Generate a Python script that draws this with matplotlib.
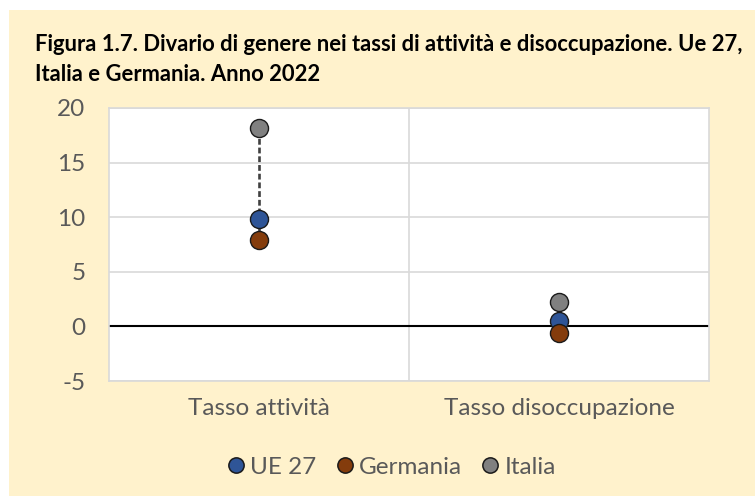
import matplotlib
matplotlib.use("Agg")
import matplotlib.pyplot as plt
from matplotlib.patches import Rectangle
from matplotlib.lines import Line2D

categories = ["Tasso attività", "Tasso disoccupazione"]
series_names = ["UE 27", "Germania", "Italia"]
ue27 = [9.8, 0.5]
germania = [7.9, -0.6]
italia = [18.2, 2.2]
yticks = [-5, 0, 5, 10, 15, 20]
title_lines = ["Figura 1.7. Divario di genere nei tassi di attività e disoccupazione. Ue 27,",
               "Italia e Germania. Anno 2022"]

colors = {"UE 27": "#2F5597", "Germania": "#843C0C", "Italia": "#808080"}
plt.rcParams['font.family'] = ['Lato', 'DejaVu Sans']

W, H = 755, 496
fig = plt.figure(figsize=(W / 100, H / 100), dpi=100)
fig.patch.set_facecolor("white")
fig.patches.append(Rectangle((9 / W, 0), 1 - 9 / W, 1 - 10 / H, transform=fig.transFigure,
                             facecolor="#FFF2CC", edgecolor="none", zorder=-10))

left, right, top, bottom = 109, 709, 108, 381
ax = fig.add_axes([left / W, 1 - bottom / H, (right - left) / W, (bottom - top) / H])
ax.set_facecolor("white")
for s in ax.spines.values():
    s.set_color("#D9D9D9")
    s.set_linewidth(1.2)

x = list(range(len(categories)))
ax.set_xlim(-0.5, len(categories) - 0.5)
ax.set_ylim(min(yticks), max(yticks))
ax.set_yticks(yticks)
ax.set_yticklabels([str(t) for t in yticks])
ax.set_xticks(x)
ax.set_xticklabels(categories)
ax.tick_params(axis="both", length=0, labelsize=17.5, labelcolor="#595959")
ax.tick_params(axis="y", pad=17)
ax.tick_params(axis="x", pad=12)

for yt in yticks:
    ax.axhline(yt, color="#D9D9D9", lw=1.2, zorder=1)
for b in range(1, len(categories)):
    ax.axvline(b - 0.5, color="#D9D9D9", lw=1.2, zorder=1)
ax.axhline(0, color="black", lw=1.5, zorder=2)

all_vals = [ue27, germania, italia]
for i in x:
    vals = [v[i] for v in all_vals]
    ax.plot([i, i], [min(vals), max(vals)], color="#404040", lw=1.9, ls=(0, (2.2, 1.1)), zorder=3)

for name, vals in zip(series_names, all_vals):
    ax.plot(x, vals, ls="none", marker="o", markersize=13, markerfacecolor=colors[name],
            markeredgecolor="#1a1a1a", markeredgewidth=1, zorder=4, label=name)

handles = [Line2D([], [], ls="none", marker="o", markersize=11, markerfacecolor=colors[n],
                  markeredgecolor="#1a1a1a", markeredgewidth=1.1) for n in series_names]
fig.legend(handles, series_names, loc="center", bbox_to_anchor=(390 / W, 1 - 467 / H),
           ncol=3, frameon=False, fontsize=17.5, labelcolor="#595959", handletextpad=0.1,
           columnspacing=0.65, handlelength=1.0)

for line, yb in zip(title_lines, [51, 81]):
    fig.text(35 / W, 1 - yb / H, line, ha="left", va="baseline", fontsize=15.8,
             fontweight="bold", color="black")

fig.savefig("out.png", dpi=100)
